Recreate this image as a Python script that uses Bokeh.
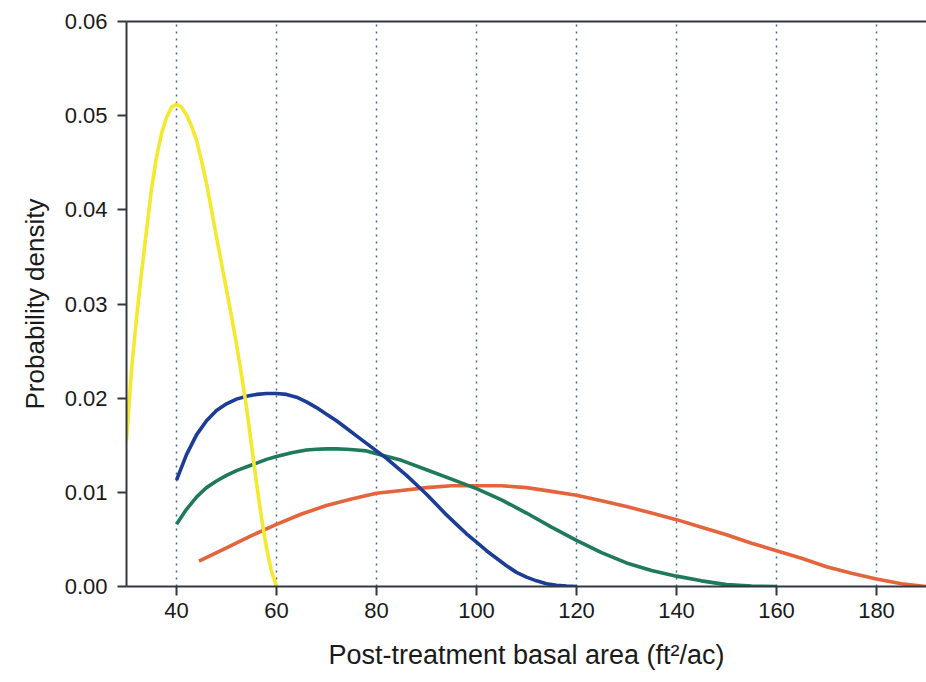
from bokeh.plotting import figure
from bokeh.models import Range1d, FixedTicker, LinearAxis, PrintfTickFormatter
from bokeh.embed import file_html
from bokeh.resources import INLINE

# ---- data ----
yellow_x = [30, 31, 32, 33, 34, 35, 36, 37, 38, 39, 40, 41, 42, 43, 44, 45, 46, 47, 48, 49,
            50, 51, 52, 53, 54, 55, 56, 57, 58, 59, 60]
yellow_y = [0.0155, 0.0230, 0.0285, 0.0333, 0.0378, 0.0422, 0.0456, 0.0481, 0.0498, 0.0509, 0.0512,
            0.0509, 0.0501, 0.0489, 0.0474, 0.0452, 0.0428, 0.0400, 0.0371, 0.0343, 0.0315,
            0.0287, 0.0257, 0.0225, 0.0190, 0.0150, 0.0110, 0.0073, 0.0041, 0.0016, 0.0]

blue_x = [40, 42, 44, 46, 48, 50, 52, 54, 56, 58, 60, 62, 64, 66, 68, 70, 72, 74, 76, 78, 80,
          82, 84, 86, 88, 90, 92, 94, 96, 98, 100, 102, 104, 106, 108, 110, 112, 114, 116, 118, 120]
blue_y = [0.0113, 0.0140, 0.0161, 0.0176, 0.0187, 0.0194, 0.0199, 0.0202, 0.0204, 0.0205, 0.0205,
          0.0204, 0.0201, 0.0196, 0.0190, 0.0183, 0.0176, 0.0168, 0.0160, 0.0152, 0.0144,
          0.0136, 0.0127, 0.0118, 0.0108, 0.0098, 0.0087, 0.0076, 0.0066, 0.0056, 0.0047,
          0.0038, 0.0030, 0.0022, 0.0015, 0.0010, 0.0006, 0.0003, 0.00013, 0.00004, 0.0]

green_x = [40, 42, 44, 46, 48, 50, 52, 55, 58, 60, 63, 66, 68, 70, 72, 74, 76, 78, 80, 85, 90,
           95, 100, 105, 110, 115, 120, 125, 130, 135, 140, 145, 150, 155, 160]
green_y = [0.0066, 0.0082, 0.0095, 0.0105, 0.0112, 0.0118, 0.0123, 0.0129, 0.0135, 0.0138,
           0.0142, 0.0145, 0.01458, 0.01462, 0.01462, 0.01458, 0.0145, 0.0144, 0.0141, 0.0134,
           0.0124, 0.0114, 0.0104, 0.0092, 0.0078, 0.0063, 0.0049, 0.0036, 0.0025, 0.0017,
           0.0011, 0.0006, 0.0002, 0.00005, 0.0]

red_x = [44.5, 50, 55, 60, 65, 70, 75, 80, 85, 90, 95, 100, 105, 110, 115, 120, 125, 130, 135,
         140, 145, 150, 155, 160, 165, 170, 175, 180, 185, 190]
red_y = [0.0027, 0.0041, 0.0054, 0.0066, 0.0077, 0.0086, 0.0093, 0.0099, 0.0102, 0.0105,
         0.0107, 0.0107, 0.0107, 0.0105, 0.0101, 0.0097, 0.0091, 0.0085, 0.0078, 0.0071,
         0.0063, 0.0055, 0.0046, 0.0038, 0.0030, 0.0021, 0.0014, 0.0008, 0.0003, 0.0]

x_ticks = [40, 60, 80, 100, 120, 140, 160, 180]
y_ticks = [0.0, 0.01, 0.02, 0.03, 0.04, 0.05, 0.06]

FONT = "Liberation Sans"
TXT = "#1a1a1a"
AX = "#333840"

p = figure(width=926, height=682, output_backend="svg", toolbar_location=None,
           x_range=Range1d(30, 190), y_range=Range1d(0, 0.06),
           min_border_left=126, min_border_right=0, min_border_top=21, min_border_bottom=96)
p.outline_line_color = None
p.background_fill_color = "white"
p.border_fill_color = "white"

# lines (draw order: red, green, blue, yellow)
p.line(red_x, red_y, line_color="#e4643c", line_width=3.6)
p.line(green_x, green_y, line_color="#1f7a5c", line_width=3.6)
p.line(blue_x, blue_y, line_color="#1c3d96", line_width=3.6)
p.line(yellow_x, yellow_y, line_color="#f4e92e", line_width=3.6)

# grid
p.ygrid.grid_line_color = None
p.xgrid.ticker = FixedTicker(ticks=x_ticks)
p.xgrid.grid_line_color = "#46698c"
p.xgrid.grid_line_dash = "2 5"
p.xgrid.grid_line_width = 1.5

# axes
for ax in (p.xaxis[0], p.yaxis[0]):
    ax.axis_line_color = AX
    ax.axis_line_width = 2
    ax.major_tick_line_color = AX
    ax.major_tick_line_width = 2
    ax.major_tick_in = 0
    ax.major_tick_out = 9
    ax.minor_tick_line_color = None
    ax.major_label_text_font = FONT
    ax.major_label_text_font_size = "22px"
    ax.major_label_text_color = TXT
    ax.axis_label_text_font = FONT
    ax.axis_label_text_font_style = "normal"
    ax.axis_label_text_color = TXT

p.xaxis.ticker = FixedTicker(ticks=x_ticks)
p.xaxis.major_label_standoff = 7
p.xaxis.axis_label = "Post-treatment basal area (ft\u00b2/ac)"
p.xaxis.axis_label_text_font_size = "27px"
p.xaxis.axis_label_standoff = 19

p.yaxis.ticker = FixedTicker(ticks=y_ticks)
p.yaxis.formatter = PrintfTickFormatter(format="%.2f")
p.yaxis.major_label_standoff = 10
p.yaxis.axis_label = "Probability density"
p.yaxis.axis_label_text_font_size = "26px"
p.yaxis.axis_label_standoff = 12

top = LinearAxis(ticker=FixedTicker(ticks=[]), axis_line_color=AX, axis_line_width=2,
                 major_tick_line_color=None, minor_tick_line_color=None,
                 major_label_text_font_size="0px")
p.add_layout(top, "above")

open("out.html", "w").write(file_html(p, INLINE))
